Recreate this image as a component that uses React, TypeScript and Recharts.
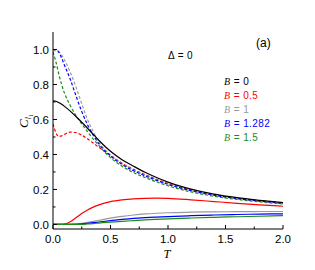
import React from 'react';
import { LineChart, Line, XAxis, YAxis } from 'recharts';

// Temperature grid
const T = [0, 0.025, 0.05, 0.075, 0.1, 0.15, 0.2, 0.25, 0.3, 0.35, 0.4, 0.5, 0.6, 0.7, 0.8, 0.9, 1.0, 1.2, 1.4, 1.6, 1.8, 2.0];

// Upper curves (dashed, black solid)
const blackB0 = [0.706, 0.704, 0.697, 0.687, 0.675, 0.648, 0.617, 0.584, 0.55, 0.515, 0.48, 0.418, 0.37, 0.333, 0.298, 0.268, 0.242, 0.202, 0.173, 0.153, 0.138, 0.125];
const redDashed = [0.575, 0.525, 0.503, 0.506, 0.515, 0.528, 0.525, 0.51, 0.49, 0.465, 0.44, 0.395, 0.35, 0.315, 0.285, 0.258, 0.234, 0.196, 0.169, 0.15, 0.135, 0.122];
const grayDashed = [0.995, 0.993, 0.987, 0.97, 0.94, 0.87, 0.785, 0.69, 0.6, 0.53, 0.47, 0.398, 0.348, 0.311, 0.281, 0.255, 0.231, 0.194, 0.168, 0.149, 0.134, 0.121];
const blueDashed = [1.0, 1.0, 0.985, 0.952, 0.91, 0.83, 0.735, 0.645, 0.57, 0.51, 0.46, 0.392, 0.343, 0.307, 0.278, 0.252, 0.229, 0.193, 0.167, 0.148, 0.133, 0.12];
const greenDashed = [0.985, 0.93, 0.86, 0.8, 0.75, 0.68, 0.622, 0.575, 0.53, 0.488, 0.45, 0.382, 0.333, 0.297, 0.268, 0.243, 0.221, 0.186, 0.161, 0.143, 0.129, 0.117];

// Lower curves (solid)
const redSolid = [0, 0, 0, 0, 0.002, 0.015, 0.038, 0.062, 0.083, 0.099, 0.112, 0.13, 0.14, 0.146, 0.149, 0.15, 0.149, 0.141, 0.131, 0.121, 0.112, 0.104];
const graySolid = [0, 0, 0, 0, 0, 0.001, 0.003, 0.007, 0.012, 0.018, 0.024, 0.036, 0.046, 0.054, 0.06, 0.064, 0.067, 0.07, 0.072, 0.073, 0.074, 0.074];
const blueSolid = [0, 0, 0, 0, 0, 0, 0.001, 0.003, 0.006, 0.01, 0.014, 0.022, 0.029, 0.035, 0.039, 0.042, 0.045, 0.05, 0.054, 0.057, 0.059, 0.061];
const greenSolid = [0, 0, 0, 0, 0, 0, 0, 0.001, 0.003, 0.005, 0.008, 0.013, 0.018, 0.022, 0.026, 0.029, 0.032, 0.037, 0.041, 0.044, 0.047, 0.05];

const xTicks = [0, 0.25, 0.5, 0.75, 1.0, 1.25, 1.5, 1.75, 2.0];
const yTicks = [0, 0.1, 0.2, 0.3, 0.4, 0.5, 0.6, 0.7, 0.8, 0.9, 1.0];

const legendValues = ['0', '0.5', '1', '1.282', '1.5'];
const legendColors = ['#000000', '#ff0000', '#999999', '#0000ff', '#1a8c1a'];

const data = T.map((t, i) => ({
  T: t,
  black: blackB0[i],
  redD: redDashed[i],
  grayD: grayDashed[i],
  blueD: blueDashed[i],
  greenD: greenDashed[i],
  redS: redSolid[i],
  grayS: graySolid[i],
  blueS: blueSolid[i],
  greenS: greenSolid[i],
}));

const SANS = 'Liberation Sans, Arial, sans-serif';
const SERIF = 'Liberation Serif, Times New Roman, serif';

const isMajorX = (v: number) => Math.abs(v * 2 - Math.round(v * 2)) < 1e-6;
const isMajorY = (v: number) => Math.round(v * 10) % 2 === 0;

const BottomTick = (props: any) => {
  const { x, y, payload } = props;
  const v = payload.value as number;
  const major = isMajorX(v);
  return (
    <g>
      <line x1={x} x2={x} y1={y} y2={y - (major ? 4 : 2.5)} stroke="#000" strokeWidth={1} />
      {major && (
        <text x={x} y={y + 14} textAnchor="middle" fontSize={11.5} fontFamily={SANS} fill="#000">
          {v.toFixed(1)}
        </text>
      )}
    </g>
  );
};

const TopTick = (props: any) => {
  const { x, y, payload } = props;
  const major = isMajorX(payload.value);
  return <line x1={x} x2={x} y1={y} y2={y + (major ? 4 : 2.5)} stroke="#000" strokeWidth={1} />;
};

const LeftTick = (props: any) => {
  const { x, y, payload } = props;
  const v = payload.value as number;
  const major = isMajorY(v);
  return (
    <g>
      <line x1={x} x2={x + (major ? 4 : 2.5)} y1={y} y2={y} stroke="#000" strokeWidth={1} />
      {major && (
        <text x={x - 4} y={y} dy="0.36em" textAnchor="end" fontSize={11.5} fontFamily={SANS} fill="#000">
          {v.toFixed(1)}
        </text>
      )}
    </g>
  );
};

const RightTick = (props: any) => {
  const { x, y, payload } = props;
  const major = isMajorY(payload.value);
  return <line x1={x} x2={x - (major ? 4 : 2.5)} y1={y} y2={y} stroke="#000" strokeWidth={1} />;
};

export default function App() {
  const common = { isAnimationActive: false, dot: false, activeDot: false, type: 'monotone' as const, xAxisId: 'b', yAxisId: 'l' };
  const dash = '3 2';
  return (
    <div style={{ position: 'absolute', left: 0, top: 0, width: 315, height: 270, background: '#fff' }}>
      <LineChart width={315} height={270} data={data} margin={{ top: 32, right: 32, bottom: 21, left: 13 }}>
        <XAxis xAxisId="b" dataKey="T" type="number" domain={[0, 2]} ticks={xTicks} interval={0}
          tick={<BottomTick />} tickLine={false} tickSize={0} tickMargin={0} height={20}
          axisLine={{ stroke: '#000' }} allowDataOverflow />
        <XAxis xAxisId="t" dataKey="T" type="number" orientation="top" domain={[0, 2]} ticks={xTicks} interval={0}
          tick={<TopTick />} tickLine={false} tickSize={0} tickMargin={0} height={0}
          axisLine={{ stroke: '#000' }} allowDataOverflow />
        <YAxis yAxisId="l" type="number" domain={[-0.026, 1.1]} ticks={yTicks} interval={0}
          tick={<LeftTick />} tickLine={false} tickSize={0} tickMargin={0} width={40}
          axisLine={{ stroke: '#000' }} allowDataOverflow />
        <YAxis yAxisId="r" type="number" orientation="right" domain={[-0.026, 1.1]} ticks={yTicks} interval={0}
          tick={<RightTick />} tickLine={false} tickSize={0} tickMargin={0} width={0}
          axisLine={{ stroke: '#000' }} allowDataOverflow />

        <Line {...common} xAxisId="t" yAxisId="r" dataKey="black" stroke="none" legendType="none" />

        <Line {...common} dataKey="redS" stroke="#ff0000" strokeWidth={1.2} />
        <Line {...common} dataKey="grayS" stroke="#999999" strokeWidth={1.2} />
        <Line {...common} dataKey="blueS" stroke="#0000ff" strokeWidth={1.2} />
        <Line {...common} dataKey="greenS" stroke="#1a8c1a" strokeWidth={1.2} />

        <Line {...common} dataKey="greenD" stroke="#1a8c1a" strokeWidth={1.2} strokeDasharray={dash} />
        <Line {...common} dataKey="redD" stroke="#ff0000" strokeWidth={1.2} strokeDasharray={dash} />
        <Line {...common} dataKey="grayD" stroke="#999999" strokeWidth={1.2} strokeDasharray={dash} />
        <Line {...common} dataKey="blueD" stroke="#0000ff" strokeWidth={1.2} strokeDasharray={dash} />
        <Line {...common} dataKey="black" stroke="#000000" strokeWidth={1.2} />
      </LineChart>
      <svg width={315} height={270} style={{ position: 'absolute', left: 0, top: 0, pointerEvents: 'none' }}>
        <text x={256} y={47} fontSize={12} fontFamily={SANS} fill="#000">(a)</text>
        <text x={168} y={59} fontSize={10} fontFamily={SANS} fill="#000" letterSpacing={0.4}>Δ = 0</text>
        {legendValues.map((v, i) => (
          <text key={v} x={224} y={85 + i * 14} fontSize={10} fill={legendColors[i]} fontFamily={SANS} letterSpacing={0.4}>
            <tspan fontFamily={SERIF} fontStyle="italic">B</tspan>
            <tspan> = {v}</tspan>
          </text>
        ))}
        <text transform="translate(28,121) rotate(-90)" textAnchor="middle" fontSize={13} fill="#000" fontFamily={SERIF}>
          <tspan fontStyle="italic">C</tspan>
          <tspan fontStyle="italic" fontSize={8} dy={3}>l</tspan>
          <tspan fontSize={6} dy={1.5}>1</tspan>
        </text>
        <text x={167} y={258} textAnchor="middle" fontSize={12.5} fontStyle="italic" fontFamily={SERIF} fill="#000">T</text>
      </svg>
    </div>
  );
}
